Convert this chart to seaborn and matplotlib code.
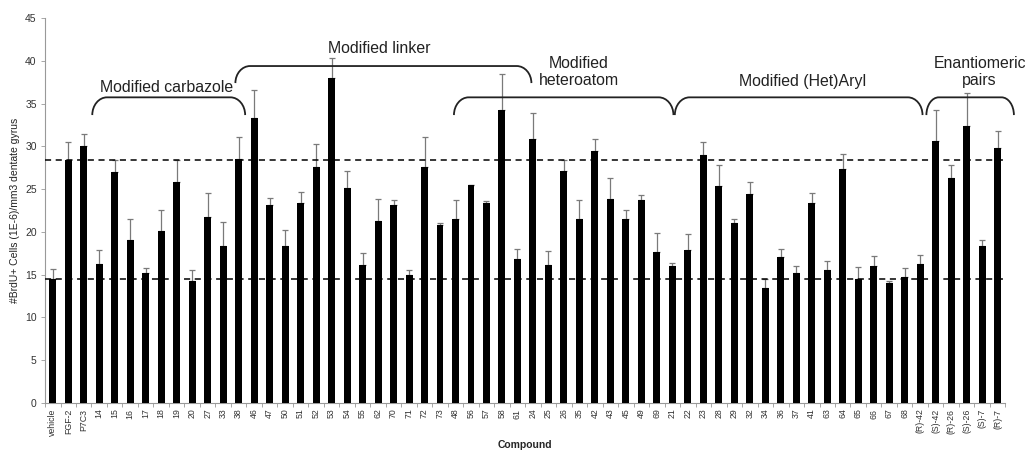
import numpy as np
import pandas as pd
import matplotlib
matplotlib.use("Agg")
import matplotlib.pyplot as plt
from matplotlib.path import Path
from matplotlib.patches import PathPatch
import seaborn as sns

compounds = ["vehicle", "FGF-2", "P7C3", "14", "15", "16", "17", "18", "19", "20", "27", "33", "38",
             "46", "47", "50", "51", "52", "53", "54", "55", "62", "70", "71", "72", "73",
             "48", "56", "57", "58", "61",
             "24", "25", "26", "35", "42", "43", "45", "49", "69",
             "21", "22", "23", "28", "29", "32", "34", "36", "37", "41", "63", "64", "65", "66", "67", "68",
             "(R)-42", "(S)-42", "(R)-26", "(S)-26", "(S)-7", "(R)-7"]

means = [14.55, 28.4, 30.0, 16.2, 27.0, 19.0, 15.2, 20.1, 25.8, 14.3, 21.7, 18.3, 28.5,
         33.3, 23.2, 18.4, 23.4, 27.6, 38.0, 25.1, 16.1, 21.3, 23.2, 15.0, 27.6, 20.8,
         21.5, 25.5, 23.4, 34.2, 16.8,
         30.9, 16.1, 27.1, 21.5, 29.5, 23.9, 21.5, 23.7, 17.6,
         16.0, 17.9, 29.0, 25.4, 21.0, 24.4, 13.4, 17.1, 15.2, 23.4, 15.6, 27.3, 14.5, 16.0, 14.0, 14.7,
         16.2, 30.6, 26.3, 32.4, 18.3, 29.8]

err_top = [15.7, 30.55, 31.4, 17.9, 28.4, 21.5, 15.75, 22.6, 28.4, 15.6, 24.6, 21.2, 31.1,
           36.6, 24.0, 20.2, 24.7, 30.3, 40.35, 27.1, 17.55, 23.8, 23.7, 15.5, 31.05, 21.1,
           23.7, 25.5, 23.6, 38.5, 17.95,
           33.85, 17.8, 28.4, 23.7, 30.9, 26.3, 22.6, 24.3, 19.9,
           16.35, 19.7, 30.55, 27.8, 21.55, 25.8, 14.55, 17.95, 16.05, 24.5, 16.6, 29.1, 15.9, 17.2, 14.25, 15.75,
           17.25, 34.25, 27.8, 36.2, 19.05, 31.8]

ref_fgf2 = 28.4
ref_vehicle = 14.55

groups = ["Modified carbazole", "Modified linker", "Modified\nheteroatom", "Modified (Het)Aryl", "Enantiomeric\npairs"]

df = pd.DataFrame({"Compound": compounds, "value": means})

sns.set_theme(style="white")
plt.rcParams["font.family"] = ["Liberation Sans", "DejaVu Sans"]

fig = plt.figure(figsize=(10.28, 4.51), dpi=100)
ax = fig.add_axes([0.0438, 0.1064, 0.9342, 0.8536])

sns.barplot(data=df, x="Compound", y="value", color="black", width=0.45,
            errorbar=None, ax=ax, saturation=1, edgecolor="black", linewidth=0, zorder=3)

xs = np.arange(len(compounds))
up = np.array(err_top) - np.array(means)
ax.errorbar(xs, means, yerr=[np.zeros_like(up), up], fmt="none", ecolor="#7a7a7a",
            elinewidth=0.9, capsize=2, capthick=0.9, zorder=2)

ax.axhline(ref_fgf2, color="black", ls=(0, (4, 3)), lw=1.1, zorder=4)
ax.axhline(ref_vehicle, color="black", ls=(0, (4, 3)), lw=1.1, zorder=4)

ax.set_xlim(-0.5, len(compounds) - 0.5)
ax.set_ylim(0, 45)
ax.set_yticks(np.arange(0, 46, 5))
ax.tick_params(axis="y", labelsize=7.5, length=3, width=0.6, direction="out", left=True, pad=3,
               colors="#999999", labelcolor="#333333")
ax.set_xticks(xs)
ax.set_xticklabels(compounds, rotation=90, fontsize=6.3, color="#333333")
ax.tick_params(axis="x", which="major", length=0, pad=4)
ax.set_xticks(np.arange(-0.5, len(compounds), 1), minor=True)
ax.tick_params(axis="x", which="minor", length=3, width=0.6, color="#999999", bottom=True, direction="out")

for s in ["top", "right"]:
    ax.spines[s].set_visible(False)
for s in ["left", "bottom"]:
    ax.spines[s].set_color("#999999")
    ax.spines[s].set_linewidth(0.8)

ax.set_xlabel("Compound", fontsize=7.5, fontweight="bold", labelpad=3)
ax.set_ylabel("#BrdU+ Cells (1E-6)/mm3 dentate gyrus", fontsize=7.5, color="#222222", labelpad=4)


def bracket(x0, x1, ytop, yend, rx=0.95):
    k = 0.552
    dy = ytop - yend
    verts = [(x0, yend),
             (x0, yend + k * dy), (x0 + rx * (1 - k), ytop), (x0 + rx, ytop),
             (x1 - rx, ytop),
             (x1 - rx * (1 - k), ytop), (x1, yend + k * dy), (x1, yend)]
    codes = [Path.MOVETO, Path.CURVE4, Path.CURVE4, Path.CURVE4, Path.LINETO,
             Path.CURVE4, Path.CURVE4, Path.CURVE4]
    p = PathPatch(Path(verts, codes), fill=False, lw=1.3, color="#222222", clip_on=False, zorder=5)
    ax.add_patch(p)


bracket(2.55, 12.42, 35.73, 33.66)
bracket(11.79, 30.9, 39.39, 37.4)
bracket(25.9, 40.07, 35.73, 33.66)
bracket(40.16, 56.15, 35.73, 33.66)
bracket(56.4, 62.05, 35.73, 33.66, rx=0.8)

tkw = dict(fontsize=11.4, ha="center", va="center", color="#222222", linespacing=1.2)
ax.text(7.35, 36.9, groups[0], **tkw)
ax.text(21.1, 41.4, groups[1], **tkw)
ax.text(33.94, 38.7, groups[2], **tkw)
ax.text(48.38, 37.6, groups[3], **tkw)
ax.text(59.84, 38.7, groups[4], **tkw)

fig.savefig("out.png", dpi=100)
